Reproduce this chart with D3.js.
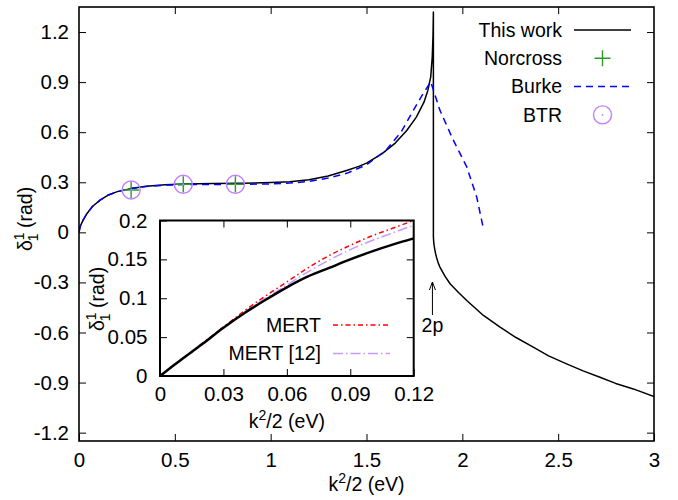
<!DOCTYPE html>
<html>
<head>
<meta charset="utf-8">
<script src="https://cdn.jsdelivr.net/npm/d3@7"></script>
<style>
  html, body { margin: 0; padding: 0; background: #fff; }
  svg { display: block; }
  text { font-family: "Liberation Sans", Arial, Helvetica, sans-serif; fill: #000; }
</style>
</head>
<body>
<svg id="chart" width="678" height="500"></svg>
<script>
// ---- main panel: p-wave phase shift vs. energy ----
const thisWorkX = [0, 0.005, 0.01, 0.02, 0.04, 0.07, 0.11, 0.15, 0.2, 0.27, 0.35, 0.45, 0.55, 0.7, 0.85, 1.0, 1.1, 1.2, 1.3, 1.4, 1.46, 1.5, 1.58, 1.65, 1.71, 1.76, 1.8, 1.82, 1.835, 1.843, 1.847, 1.849,
                   1.849, 1.8495, 1.85, 1.851, 1.853, 1.856, 1.86, 1.866, 1.874, 1.883, 1.91, 1.936, 1.98, 2.023, 2.11, 2.197, 2.28, 2.37, 2.45, 2.544, 2.63, 2.718, 2.8, 2.892, 3.0];
const thisWorkY = [0, 0.03, 0.045, 0.07, 0.11, 0.155, 0.193, 0.222, 0.244, 0.262, 0.276, 0.285, 0.29, 0.292, 0.294, 0.298, 0.303, 0.315, 0.338, 0.372, 0.395, 0.415, 0.47, 0.535, 0.61, 0.69, 0.78, 0.85, 0.93, 1.05, 1.18, 1.32,
                   -0.02, -0.036, -0.046, -0.06, -0.08, -0.1, -0.125, -0.152, -0.183, -0.208, -0.264, -0.308, -0.36, -0.408, -0.498, -0.568, -0.63, -0.688, -0.74, -0.788, -0.83, -0.868, -0.905, -0.938, -0.984];

const burkeX = [0, 0.005, 0.01, 0.02, 0.04, 0.07, 0.11, 0.15, 0.2, 0.27, 0.35, 0.45, 0.55, 0.7, 0.85, 1.0, 1.1, 1.2, 1.3, 1.4, 1.5, 1.6, 1.68, 1.745, 1.79, 1.835, 1.883, 1.953, 2.023, 2.075, 2.11];
const burkeY = [0, 0.03, 0.045, 0.07, 0.11, 0.155, 0.193, 0.222, 0.244, 0.262, 0.275, 0.283, 0.286, 0.287, 0.288, 0.29, 0.295, 0.305, 0.325, 0.355, 0.405, 0.49, 0.6, 0.732, 0.82, 0.902, 0.732, 0.552, 0.392, 0.212, 0.022];

const norcrossX = [0.272, 0.544, 0.816];
const norcrossY = [0.254, 0.288, 0.288];
const btrX = [0.272, 0.544, 0.816];
const btrY = [0.254, 0.288, 0.288];

const mainXTicks = [0, 0.5, 1, 1.5, 2, 2.5, 3];
const mainXTickLabels = ["0", "0.5", "1", "1.5", "2", "2.5", "3"];
const mainYTicks = [-1.2, -0.9, -0.6, -0.3, 0, 0.3, 0.6, 0.9, 1.2];
const mainYTickLabels = ["-1.2", "-0.9", "-0.6", "-0.3", "0", "0.3", "0.6", "0.9", "1.2"];

const legendLabels = ["This work", "Norcross", "Burke", "BTR"];
const thresholdX = 1.844;   // 2p excitation threshold marker
const thresholdLabel = "2p";

// ---- inset: low-energy region with effective-range fits ----
const insetX = [0, 0.005, 0.01, 0.015, 0.02, 0.03, 0.04, 0.05, 0.06, 0.07, 0.08, 0.09, 0.1, 0.11, 0.12];
const insetThisWork = [0, 0.0105, 0.021, 0.031, 0.041, 0.062, 0.081, 0.098, 0.114, 0.128, 0.139, 0.15, 0.16, 0.169, 0.177];
const insetMert = [0, 0.0105, 0.021, 0.0315, 0.042, 0.063, 0.084, 0.103, 0.121, 0.139, 0.155, 0.168, 0.18, 0.19, 0.2];
const insetMert12 = [0, 0.0105, 0.021, 0.031, 0.0415, 0.0625, 0.082, 0.1, 0.117, 0.134, 0.149, 0.1625, 0.174, 0.184, 0.194];

const insetXTicks = [0, 0.03, 0.06, 0.09, 0.12];
const insetXTickLabels = ["0", "0.03", "0.06", "0.09", "0.12"];
const insetYTicks = [0, 0.05, 0.1, 0.15, 0.2];
const insetYTickLabels = ["0", "0.05", "0.1", "0.15", "0.2"];
const insetLegendLabels = ["MERT", "MERT [12]"];

const colors = { work: "#000000", norcross: "#2a9a2a", burke: "#0000ff", btr: "#c080ff", mert: "#ff0000", mert12: "#c599ff" };
const FONT = 19.5;
const TICK_FONT = 20.5;

const svg = d3.select("#chart");

// scales
const x = d3.scaleLinear().domain([0, 3]).range([79, 654]);
const y = d3.scaleLinear().domain([-1.25, 1.35]).range([441, 7]);
const xi = d3.scaleLinear().domain([0, 0.12]).range([160, 413.7]);
const yi = d3.scaleLinear().domain([0, 0.2]).range([376, 220.5]);

function styleAxis(g, fontSize) {
  g.select(".domain").remove();
  g.selectAll(".tick line").attr("stroke", "#000").attr("stroke-width", 1);
  g.selectAll(".tick text").attr("font-size", fontSize).attr("font-family", "Liberation Sans, Arial, sans-serif").attr("fill", "#000");
}
const labelFrom = (ticks, labels) => d => labels[ticks.indexOf(d)];

// ---- main axes ----
svg.append("g").attr("transform", `translate(0,${y.range()[0]})`)
  .call(d3.axisBottom(x).tickValues(mainXTicks).tickFormat(labelFrom(mainXTicks, mainXTickLabels)).tickSizeInner(-7).tickSizeOuter(0).tickPadding(11))
  .call(g => styleAxis(g, TICK_FONT));
svg.append("g").attr("transform", `translate(0,${y.range()[1]})`)
  .call(d3.axisTop(x).tickValues(mainXTicks.slice(1, -1)).tickFormat("").tickSizeInner(-7).tickSizeOuter(0))
  .call(g => styleAxis(g, TICK_FONT));
svg.append("g").attr("transform", `translate(${x.range()[0]},0)`)
  .call(d3.axisLeft(y).tickValues(mainYTicks).tickFormat(labelFrom(mainYTicks, mainYTickLabels)).tickSizeInner(-7).tickSizeOuter(0).tickPadding(10))
  .call(g => styleAxis(g, TICK_FONT));
svg.append("g").attr("transform", `translate(${x.range()[1]},0)`)
  .call(d3.axisRight(y).tickValues(mainYTicks).tickFormat("").tickSizeInner(-7).tickSizeOuter(0))
  .call(g => styleAxis(g, TICK_FONT));

// ---- main curves ----
svg.append("clipPath").attr("id", "clipMain").append("rect")
  .attr("x", x.range()[0]).attr("y", y.range()[1]).attr("width", x.range()[1] - x.range()[0]).attr("height", y.range()[0] - y.range()[1]);

const lineMain = d3.line().x(d => x(d[0])).y(d => y(d[1]));
const plotG = svg.append("g").attr("clip-path", "url(#clipMain)");

plotG.append("path").datum(thisWorkX.map((v, i) => [v, thisWorkY[i]]))
  .attr("d", lineMain).attr("fill", "none").attr("stroke", colors.work).attr("stroke-width", 1.5).attr("stroke-linejoin", "round");

plotG.append("path").datum(burkeX.map((v, i) => [v, burkeY[i]]))
  .attr("d", lineMain).attr("fill", "none").attr("stroke", colors.burke).attr("stroke-width", 1.5).attr("stroke-dasharray", "7,5");

// Norcross: plus markers; BTR: open circle with centre dot
const plusSize = 8;
function drawPlus(g, cx, cy, col) {
  g.append("path").attr("d", `M${cx - plusSize},${cy}H${cx + plusSize}M${cx},${cy - plusSize}V${cy + plusSize}`)
    .attr("stroke", col).attr("stroke-width", 1.4).attr("fill", "none");
}
function drawCircleDot(g, cx, cy, col) {
  g.append("circle").attr("cx", cx).attr("cy", cy).attr("r", 9).attr("fill", "none").attr("stroke", col).attr("stroke-width", 1.4);
  g.append("circle").attr("cx", cx).attr("cy", cy).attr("r", 0.9).attr("fill", col);
}
norcrossX.forEach((v, i) => drawPlus(plotG, x(v), y(norcrossY[i]), colors.norcross));
btrX.forEach((v, i) => drawCircleDot(plotG, x(v), y(btrY[i]), colors.btr));

// ---- main frame ----
svg.append("rect").attr("x", x.range()[0]).attr("y", y.range()[1])
  .attr("width", x.range()[1] - x.range()[0]).attr("height", y.range()[0] - y.range()[1])
  .attr("fill", "none").attr("stroke", "#000").attr("stroke-width", 1.6);

// ---- axis titles ----
function kLabel(sel, size) {
  sel.append("tspan").text("k");
  sel.append("tspan").attr("font-size", size * 0.72).attr("dy", -size * 0.4).text("2");
  sel.append("tspan").attr("dy", size * 0.4).text("/2 (eV)");
}
function deltaLabel(sel, size) {
  sel.append("tspan").text("δ");
  sel.append("tspan").attr("font-size", size * 0.72).attr("dy", -size * 0.42).text("1");
  sel.append("tspan").attr("font-size", size * 0.72).attr("dx", -size * 0.4).attr("dy", size * 0.72).text("1");
  sel.append("tspan").attr("dy", -size * 0.3).text(" (rad)");
}
svg.append("text").attr("x", (x.range()[0] + x.range()[1]) / 2).attr("y", 491)
  .attr("text-anchor", "middle").attr("font-size", FONT).call(s => kLabel(s, FONT));
svg.append("text").attr("transform", "translate(32,219) rotate(-90)")
  .attr("text-anchor", "middle").attr("font-size", FONT).call(s => deltaLabel(s, FONT));

// ---- legend ----
const legG = svg.append("g");
const legTextX = 562, legSampleX1 = 574, legSampleX2 = 631, legTop = 30, legStep = 28.3;
legendLabels.forEach((lab, i) => {
  const cy = legTop + i * legStep;
  legG.append("text").attr("x", legTextX).attr("y", cy + 6.8).attr("text-anchor", "end").attr("font-size", FONT).text(lab);
});
legG.append("line").attr("x1", legSampleX1).attr("x2", legSampleX2).attr("y1", legTop).attr("y2", legTop)
  .attr("stroke", colors.work).attr("stroke-width", 1.5);
drawPlus(legG, (legSampleX1 + legSampleX2) / 2, legTop + legStep, colors.norcross);
legG.append("line").attr("x1", legSampleX1).attr("x2", legSampleX2).attr("y1", legTop + 2 * legStep).attr("y2", legTop + 2 * legStep)
  .attr("stroke", colors.burke).attr("stroke-width", 1.5).attr("stroke-dasharray", "7,5");
drawCircleDot(legG, (legSampleX1 + legSampleX2) / 2, legTop + 3 * legStep, colors.btr);

// ---- 2p threshold arrow ----
const ax = x(thresholdX);
svg.append("path").attr("d", `M${ax},315V282M${ax - 3},290L${ax},282L${ax + 3},290`)
  .attr("stroke", "#000").attr("stroke-width", 1).attr("fill", "none");
svg.append("text").attr("x", ax).attr("y", 332).attr("text-anchor", "middle").attr("font-size", FONT).text(thresholdLabel);

// ---- inset ----
const inset = svg.append("g");
inset.append("rect").attr("x", xi.range()[0]).attr("y", yi.range()[1])
  .attr("width", xi.range()[1] - xi.range()[0]).attr("height", yi.range()[0] - yi.range()[1]).attr("fill", "#fff");

inset.append("g").attr("transform", `translate(0,${yi.range()[0]})`)
  .call(d3.axisBottom(xi).tickValues(insetXTicks).tickFormat(labelFrom(insetXTicks, insetXTickLabels)).tickSizeInner(-7).tickSizeOuter(0).tickPadding(10.5))
  .call(g => styleAxis(g, TICK_FONT));
inset.append("g").attr("transform", `translate(0,${yi.range()[1]})`)
  .call(d3.axisTop(xi).tickValues(insetXTicks.slice(1, -1)).tickFormat("").tickSizeInner(-7).tickSizeOuter(0))
  .call(g => styleAxis(g, TICK_FONT));
inset.append("g").attr("transform", `translate(${xi.range()[0]},0)`)
  .call(d3.axisLeft(yi).tickValues(insetYTicks).tickFormat(labelFrom(insetYTicks, insetYTickLabels)).tickSizeInner(-7).tickSizeOuter(0).tickPadding(12.5))
  .call(g => styleAxis(g, TICK_FONT));
inset.append("g").attr("transform", `translate(${xi.range()[1]},0)`)
  .call(d3.axisRight(yi).tickValues(insetYTicks.slice(1, -1)).tickFormat("").tickSizeInner(-7).tickSizeOuter(0))
  .call(g => styleAxis(g, TICK_FONT));

svg.append("clipPath").attr("id", "clipInset").append("rect")
  .attr("x", xi.range()[0]).attr("y", yi.range()[1]).attr("width", xi.range()[1] - xi.range()[0]).attr("height", yi.range()[0] - yi.range()[1]);
const insetPlot = inset.append("g").attr("clip-path", "url(#clipInset)");
const lineInset = d3.line().x(d => xi(d[0])).y(d => yi(d[1])).curve(d3.curveMonotoneX);

insetPlot.append("path").datum(insetX.map((v, i) => [v, insetMert12[i]]))
  .attr("d", lineInset).attr("fill", "none").attr("stroke", colors.mert12).attr("stroke-width", 1.5).attr("stroke-dasharray", "10,3,1.5,3");
insetPlot.append("path").datum(insetX.map((v, i) => [v, insetMert[i]]))
  .attr("d", lineInset).attr("fill", "none").attr("stroke", colors.mert).attr("stroke-width", 1.5).attr("stroke-dasharray", "5,3,1.5,3");
insetPlot.append("path").datum(insetX.map((v, i) => [v, insetThisWork[i]]))
  .attr("d", lineInset).attr("fill", "none").attr("stroke", colors.work).attr("stroke-width", 2.5);

inset.append("rect").attr("x", xi.range()[0]).attr("y", yi.range()[1])
  .attr("width", xi.range()[1] - xi.range()[0]).attr("height", yi.range()[0] - yi.range()[1])
  .attr("fill", "none").attr("stroke", "#000").attr("stroke-width", 2);

// inset legend
const iLegTextX = 321, iLegX1 = 333, iLegX2 = 390, iLegTop = 325, iLegStep = 28.5;
const insetStyles = [[colors.mert, "5,3,1.5,3"], [colors.mert12, "10,3,1.5,3"]];
insetLegendLabels.forEach((lab, i) => {
  const cy = iLegTop + i * iLegStep;
  inset.append("text").attr("x", iLegTextX).attr("y", cy + 6.8).attr("text-anchor", "end").attr("font-size", FONT).text(lab);
  inset.append("line").attr("x1", iLegX1).attr("x2", iLegX2).attr("y1", cy).attr("y2", cy)
    .attr("stroke", insetStyles[i][0]).attr("stroke-width", 1.5).attr("stroke-dasharray", insetStyles[i][1]);
});

// inset axis titles
inset.append("text").attr("x", (xi.range()[0] + xi.range()[1]) / 2).attr("y", 428)
  .attr("text-anchor", "middle").attr("font-size", FONT).call(s => kLabel(s, FONT));
inset.append("text").attr("transform", "translate(104,299) rotate(-90)")
  .attr("text-anchor", "middle").attr("font-size", FONT).call(s => deltaLabel(s, FONT));
</script>
</body>
</html>
